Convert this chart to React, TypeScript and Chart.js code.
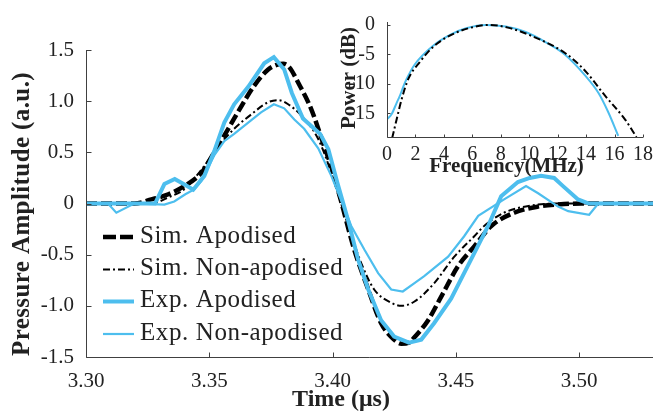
import React, { useEffect, useRef } from "react";
import { Chart, registerables } from "chart.js";

Chart.register(...registerables);

// ---------- main chart data ----------
const timeTicks = [3.3, 3.35, 3.4, 3.45, 3.5];
const timeTickLabels = ["3.30", "3.35", "3.40", "3.45", "3.50"];
const ampTicks = [-1.5, -1.0, -0.5, 0, 0.5, 1.0, 1.5];
const ampTickLabels = ["-1.5", "-1.0", "-0.5", "0", "0.5", "1.0", "1.5"];
const seriesLabels = ["Sim. Apodised", "Sim. Non-apodised", "Exp. Apodised", "Exp. Non-apodised"];

const simApodT = [3.3, 3.3196, 3.3265, 3.3334, 3.3399, 3.3468, 3.352, 3.3577, 3.363, 3.3682, 3.3739, 3.378, 3.38, 3.3825, 3.3861, 3.3914, 3.3966, 3.3995, 3.4035, 3.4088, 3.4145, 3.4197, 3.425, 3.4279, 3.431, 3.4335, 3.4388, 3.4441, 3.451, 3.4575, 3.4644, 3.4737, 3.4834, 3.4915, 3.5009, 3.53];
const simApodV = [0, 0, 0.04, 0.09, 0.17, 0.3, 0.5, 0.73, 0.95, 1.15, 1.31, 1.36, 1.365, 1.33, 1.18, 0.92, 0.56, 0.36, 0.02, -0.45, -0.84, -1.17, -1.33, -1.37, -1.36, -1.3, -1.14, -0.91, -0.61, -0.42, -0.22, -0.09, -0.03, -0.01, 0, 0];

const simNonT = [3.3, 3.3265, 3.3334, 3.3399, 3.3468, 3.3537, 3.3601, 3.367, 3.3739, 3.378, 3.382, 3.3873, 3.3942, 3.3995, 3.4064, 3.4116, 3.4169, 3.4238, 3.4279, 3.4331, 3.4412, 3.4494, 3.4575, 3.4615, 3.4696, 3.4806, 3.4915, 3.53];
const simNonV = [0, 0, 0.06, 0.14, 0.33, 0.56, 0.73, 0.87, 0.99, 1.01, 0.97, 0.86, 0.63, 0.3, -0.22, -0.58, -0.84, -0.97, -1.0, -0.96, -0.78, -0.52, -0.32, -0.22, -0.09, -0.02, 0, 0];

const expApodT = [3.3, 3.328, 3.3318, 3.336, 3.3403, 3.3435, 3.348, 3.352, 3.3561, 3.3601, 3.3658, 3.3723, 3.3762, 3.3804, 3.3835, 3.388, 3.395, 3.3983, 3.402, 3.4064, 3.4104, 3.4145, 3.4197, 3.425, 3.431, 3.436, 3.4412, 3.4481, 3.4555, 3.4631, 3.4684, 3.4752, 3.48, 3.4846, 3.4899, 3.4935, 3.4996, 3.504, 3.53];
const expApodV = [0, 0, 0.19, 0.24, 0.18, 0.135, 0.27, 0.51, 0.79, 0.97, 1.14, 1.37, 1.43, 1.31, 1.08, 0.83, 0.68, 0.53, 0.2, -0.17, -0.55, -0.84, -1.14, -1.3, -1.36, -1.33, -1.17, -0.93, -0.58, -0.22, 0.07, 0.21, 0.25, 0.27, 0.25, 0.17, 0.04, 0, 0];

const expNonT = [3.3, 3.3089, 3.3123, 3.3196, 3.3318, 3.3358, 3.3403, 3.3439, 3.3468, 3.352, 3.3561, 3.3601, 3.3658, 3.371, 3.3762, 3.3804, 3.3845, 3.3885, 3.3942, 3.3995, 3.4027, 3.4076, 3.4129, 3.4185, 3.4238, 3.4285, 3.4331, 3.4372, 3.4469, 3.4534, 3.4591, 3.4696, 3.4785, 3.4834, 3.4915, 3.4956, 3.5041, 3.5078, 3.53];
const expNonV = [0, 0, -0.09, 0, -0.01, 0.02, 0.09, 0.137, 0.22, 0.47, 0.61, 0.68, 0.79, 0.89, 0.97, 0.93, 0.82, 0.73, 0.54, 0.27, 0.08, -0.22, -0.45, -0.68, -0.84, -0.86, -0.78, -0.71, -0.52, -0.32, -0.12, 0.04, 0.17, 0.1, -0.03, -0.075, -0.11, 0, 0];

// ---------- inset (spectrum) data ----------
const freqTicks = [0, 2, 4, 6, 8, 10, 12, 14, 16, 18];
const freqTickLabels = ["0", "2", "4", "6", "8", "10", "12", "14", "16", "18"];
const powerTicks = [-15, -10, -5, 0];
const powerTickLabels = ["-15", "-10", "-5", "0"];

const expSpecF = [0, 0.33, 0.68, 0.91, 1.14, 1.37, 1.95, 3.2, 4.5, 5.56, 6.96, 8.35, 9.75, 11.14, 12.5, 13.94, 14.86, 15.56, 16.26];
const expSpecP = [-16.0, -15.1, -13.2, -12.0, -10.5, -9.2, -6.7, -3.6, -1.6, -0.56, 0, -0.28, -1.2, -2.9, -5.0, -8.6, -11.5, -14.8, -18.8];
const simSpecF = [0.36, 0.68, 1.03, 1.49, 2.3, 3.3, 4.86, 6.5, 7.2, 8.5, 10.2, 12.54, 13.94, 15.33, 16.73, 17.54];
const simSpecP = [-19.2, -16.0, -12.6, -9.2, -6.3, -3.6, -1.3, -0.15, 0, -0.45, -1.9, -4.8, -7.8, -12.0, -16.0, -19.0];

const BLUE = "#4DBEEE";
const BLACK = "#000000";
const AXIS = "#404040";
const TEXT = "#222222";
const SERIF = "'Liberation Serif', 'Times New Roman', serif";

const pts = (xs: number[], ys: number[]) => xs.map((x, i) => ({ x, y: ys[i] }));

const axesPlugin = (tickLen: number) => ({
  id: "matlabAxes",
  afterDatasetsDraw(chart: any) {
    const { ctx, chartArea: a, scales } = chart;
    const xs = scales.x;
    const ys = scales.y;
    ctx.save();
    ctx.strokeStyle = AXIS;
    ctx.lineWidth = 1;
    ctx.beginPath();
    const lx = Math.round(a.left) + 0.5;
    const by = Math.round(a.bottom) + 0.5;
    ctx.moveTo(lx, a.top);
    ctx.lineTo(lx, by);
    ctx.lineTo(a.right, by);
    xs.ticks.forEach((t: any) => {
      const px = Math.round(xs.getPixelForValue(t.value)) + 0.5;
      ctx.moveTo(px, by);
      ctx.lineTo(px, by - tickLen);
    });
    ys.ticks.forEach((t: any) => {
      const py = Math.round(ys.getPixelForValue(t.value)) + 0.5;
      ctx.moveTo(lx, py);
      ctx.lineTo(lx + tickLen, py);
    });
    ctx.stroke();
    ctx.restore();
  },
});

type TitleSpec = { text: string; x: number; y: number; rotate: boolean; font: string; spacing?: string };
const titlesPlugin = (titles: TitleSpec[]) => ({
  id: "axisTitles",
  afterDraw(chart: any) {
    const ctx = chart.ctx;
    titles.forEach((t) => {
      ctx.save();
      ctx.fillStyle = TEXT;
      ctx.font = t.font;
      (ctx as any).letterSpacing = t.spacing || "0px";
      ctx.textAlign = "center";
      ctx.textBaseline = "alphabetic";
      ctx.translate(t.x, t.y);
      if (t.rotate) ctx.rotate(-Math.PI / 2);
      ctx.fillText(t.text, 0, 0);
      ctx.restore();
    });
  },
});

const legendPlugin = {
  id: "insideLegend",
  afterDraw(chart: any) {
    const ctx = chart.ctx;
    const rows = [237, 269.5, 301.5, 334];
    seriesLabels.forEach((label, i) => {
      const ds = chart.data.datasets.find((d: any) => d.label === label);
      if (!ds) return;
      const y = rows[i];
      ctx.save();
      ctx.strokeStyle = ds.borderColor;
      ctx.lineWidth = ds.borderWidth;
      ctx.setLineDash(ds.legendDash || []);
      ctx.beginPath();
      ctx.moveTo(103, y);
      ctx.lineTo(134, y);
      ctx.stroke();
      ctx.setLineDash([]);
      ctx.fillStyle = TEXT;
      ctx.font = `25px ${SERIF}`;
      (ctx as any).letterSpacing = "0.6px";
      ctx.textAlign = "left";
      ctx.textBaseline = "middle";
      ctx.fillText(label, 140, y - 1);
      ctx.restore();
    });
  },
};

export default function App() {
  const mainRef = useRef<HTMLCanvasElement | null>(null);
  const insetRef = useRef<HTMLCanvasElement | null>(null);

  useEffect(() => {
    if (!mainRef.current || !insetRef.current) return;

    const main = new Chart(mainRef.current, {
      type: "line",
      data: {
        datasets: [
          {
            label: seriesLabels[0],
            data: pts(simApodT, simApodV),
            borderColor: BLACK,
            borderWidth: 4.5,
            borderDash: [11, 4],
            legendDash: [13, 4],
            pointRadius: 0,
            cubicInterpolationMode: "monotone",
            order: 2,
          } as any,
          {
            label: seriesLabels[1],
            data: pts(simNonT, simNonV),
            borderColor: BLACK,
            borderWidth: 2,
            borderDash: [7, 3, 2, 3],
            legendDash: [7, 3, 2, 3],
            pointRadius: 0,
            cubicInterpolationMode: "monotone",
            order: 2,
          } as any,
          {
            label: seriesLabels[2],
            data: pts(expApodT, expApodV),
            borderColor: BLUE,
            borderWidth: 4,
            pointRadius: 0,
            tension: 0,
            order: 1,
          } as any,
          {
            label: seriesLabels[3],
            data: pts(expNonT, expNonV),
            borderColor: BLUE,
            borderWidth: 2.2,
            pointRadius: 0,
            tension: 0,
            order: 1,
          } as any,
        ],
      },
      options: {
        animation: false,
        responsive: false,
        events: [],
        layout: { padding: { top: 50, right: 0, left: 0, bottom: 0 } },
        plugins: { legend: { display: false }, tooltip: { enabled: false } },
        scales: {
          x: {
            type: "linear",
            min: 3.3,
            max: 3.53,
            afterBuildTicks: (s: any) => {
              s.ticks = timeTicks.map((v) => ({ value: v }));
            },
            afterFit: (s: any) => {
              s.height = 55;
            },
            ticks: {
              autoSkip: false,
              maxRotation: 0,
              padding: 6,
              color: TEXT,
              font: { family: SERIF, size: 21, lineHeight: 1 },
              callback: (v: any) => {
                const i = timeTicks.findIndex((t) => Math.abs(t - v) < 1e-6);
                return i >= 0 ? timeTickLabels[i] : "";
              },
            },
            grid: { display: false },
            border: { display: false },
          },
          y: {
            type: "linear",
            min: -1.5,
            max: 1.5,
            afterBuildTicks: (s: any) => {
              s.ticks = ampTicks.map((v) => ({ value: v }));
            },
            afterFit: (s: any) => {
              s.width = 86;
            },
            ticks: {
              autoSkip: false,
              padding: 4,
              color: TEXT,
              font: { family: SERIF, size: 21, lineHeight: 1 },
              callback: (v: any) => {
                const i = ampTicks.findIndex((t) => Math.abs(t - v) < 1e-6);
                return i >= 0 ? ampTickLabels[i] : "";
              },
            },
            grid: { display: false },
            border: { display: false },
          },
        },
      } as any,
      plugins: [
        axesPlugin(5),
        titlesPlugin([
          { text: "Pressure Amplitude (a.u.)", x: 29, y: 214, rotate: true, font: `bold 25px ${SERIF}`, spacing: "0.4px" },
          { text: "Time (\u03bcs)", x: 341, y: 406, rotate: false, font: `bold 24px ${SERIF}` },
        ]),
        legendPlugin,
      ],
    });

    const inset = new Chart(insetRef.current, {
      type: "line",
      data: {
        datasets: [
          {
            label: "Sim.",
            data: pts(simSpecF, simSpecP),
            borderColor: BLACK,
            borderWidth: 2,
            borderDash: [7, 3, 2, 3],
            pointRadius: 0,
            cubicInterpolationMode: "monotone",
            order: 1,
          } as any,
          {
            label: "Exp.",
            data: pts(expSpecF, expSpecP),
            borderColor: BLUE,
            borderWidth: 2,
            pointRadius: 0,
            cubicInterpolationMode: "monotone",
            order: 2,
          } as any,
        ],
      },
      options: {
        animation: false,
        responsive: false,
        events: [],
        layout: { padding: { top: 22, right: 8, left: 0, bottom: 0 } },
        plugins: { legend: { display: false }, tooltip: { enabled: false } },
        scales: {
          x: {
            type: "linear",
            min: 0,
            max: 18,
            afterBuildTicks: (s: any) => {
              s.ticks = freqTicks.map((v) => ({ value: v }));
            },
            afterFit: (s: any) => {
              s.height = 53;
            },
            ticks: {
              autoSkip: false,
              maxRotation: 0,
              padding: 0,
              color: TEXT,
              font: { family: SERIF, size: 20, lineHeight: 1 },
              callback: (v: any) => {
                const i = freqTicks.findIndex((t) => Math.abs(t - v) < 1e-6);
                return i >= 0 ? freqTickLabels[i] : "";
              },
            },
            grid: { display: false },
            border: { display: false },
          },
          y: {
            type: "linear",
            min: -19,
            max: 0.5,
            afterBuildTicks: (s: any) => {
              s.ticks = powerTicks.map((v) => ({ value: v }));
            },
            afterFit: (s: any) => {
              s.width = 57;
            },
            ticks: {
              autoSkip: false,
              padding: 4,
              color: TEXT,
              font: { family: SERIF, size: 20, lineHeight: 1 },
              callback: (v: any) => {
                const i = powerTicks.findIndex((t) => Math.abs(t - v) < 1e-6);
                return i >= 0 ? powerTickLabels[i] : "";
              },
            },
            grid: { display: false },
            border: { display: false },
          },
        },
      } as any,
      plugins: [
        axesPlugin(3),
        titlesPlugin([
          { text: "Power (dB)", x: 25, y: 78, rotate: true, font: `bold 21px ${SERIF}` },
          { text: "Frequency(MHz)", x: 176.5, y: 171.5, rotate: false, font: `bold 21px ${SERIF}` },
        ]),
      ],
    });

    return () => {
      main.destroy();
      inset.destroy();
    };
  }, []);

  return (
    <div style={{ position: "absolute", left: 0, top: 0, width: 653, height: 412, background: "#fff", overflow: "hidden" }}>
      <canvas ref={mainRef} width={653} height={412} style={{ position: "absolute", left: 0, top: 0, width: 653, height: 412, display: "block" }} />
      <canvas ref={insetRef} width={323} height={190} style={{ position: "absolute", left: 330, top: 0, width: 323, height: 190, display: "block" }} />
    </div>
  );
}
